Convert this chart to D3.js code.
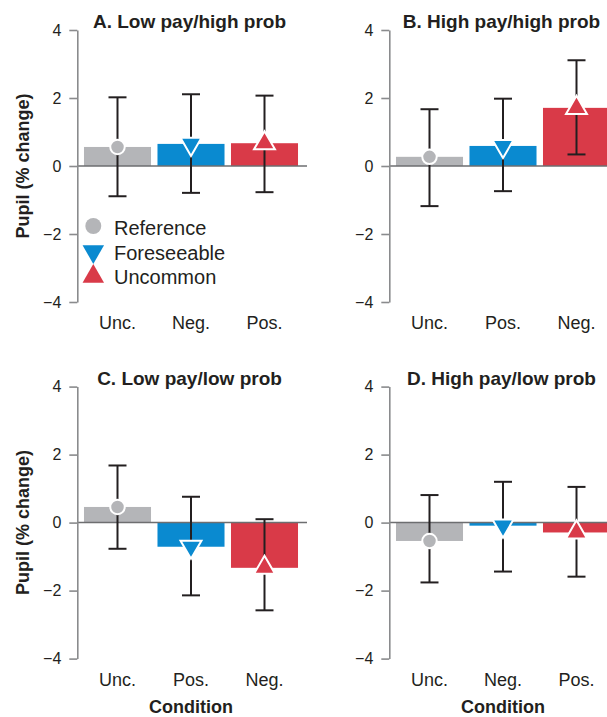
<!DOCTYPE html>
<html>
<head>
<meta charset="utf-8">
<script src="https://cdn.jsdelivr.net/npm/d3@7/dist/d3.min.js"></script>
<style>
  html, body { margin: 0; padding: 0; background: #fff; }
  svg { display: block; font-family: "Liberation Sans", Arial, Helvetica, sans-serif; }
</style>
</head>
<body>
<svg id="chart" width="607" height="717"></svg>
<script>
// Pupil response by condition, four payoff/probability panels
const panelTitles = ["A. Low pay/high prob", "B. High pay/high prob", "C. Low pay/low prob", "D. High pay/low prob"];
const panelCategories = [
  ["Unc.", "Neg.", "Pos."],
  ["Unc.", "Pos.", "Neg."],
  ["Unc.", "Pos.", "Neg."],
  ["Unc.", "Neg.", "Pos."]
];
const seriesNames = ["Reference", "Foreseeable", "Uncommon"];
const seriesColors = ["#b4b5b8", "#0a8ad0", "#d93a48"];
const seriesSymbols = ["circle", "triangleDown", "triangleUp"];

// mean % change per panel, in the order of the bars (Reference, Foreseeable, Uncommon)
const meanValues = [
  [0.56, 0.65, 0.67],
  [0.27, 0.59, 1.71],
  [0.46, -0.71, -1.33],
  [-0.54, -0.09, -0.29]
];
const upperValues = [
  [2.02, 2.11, 2.07],
  [1.67, 1.98, 3.11],
  [1.68, 0.76, 0.10],
  [0.81, 1.20, 1.05]
];
const lowerValues = [
  [-0.89, -0.79, -0.77],
  [-1.18, -0.74, 0.34],
  [-0.77, -2.14, -2.58],
  [-1.76, -1.44, -1.59]
];
const yTicks = [-4, -2, 0, 2, 4];
const yTitle = "Pupil (% change)";
const xTitle = "Condition";

const textColor = "#231f20";
const svg = d3.select("#chart");

// panel geometry
const panelOffsets = [[0, 0], [312, 0], [0, 356.6], [312, 356.6]];
const axisX = 77.3;
const plotLeft = 80.75, plotRight = 301.25, zeroRight = 307;

const y = d3.scaleLinear().domain([-4, 4]).range([302, 30]);

function symbolPath(kind, size) {
  if (kind === "circle") return d3.symbol(d3.symbolCircle, size)();
  return d3.symbol(d3.symbolTriangle, size)();
}
function symbolTransform(kind, cx, cy) {
  return kind === "triangleDown" ? `translate(${cx},${cy}) rotate(180)` : `translate(${cx},${cy})`;
}

panelTitles.forEach((title, p) => {
  const g = svg.append("g").attr("transform", `translate(${panelOffsets[p][0]},${panelOffsets[p][1]})`);
  const cats = panelCategories[p];
  const x = d3.scaleBand().domain(cats).range([plotLeft, plotRight]).paddingInner(0.088).paddingOuter(0.044);

  const rows = cats.map((c, i) => ({
    cat: c, i,
    mean: meanValues[p][i], lo: lowerValues[p][i], hi: upperValues[p][i]
  }));

  // bars
  g.selectAll("rect.bar").data(rows).join("rect")
    .attr("class", "bar")
    .attr("x", d => x(d.cat))
    .attr("width", x.bandwidth())
    .attr("y", d => Math.min(y(d.mean), y(0)))
    .attr("height", d => Math.abs(y(d.mean) - y(0)))
    .attr("fill", d => seriesColors[d.i]);

  // zero line
  g.append("line")
    .attr("x1", axisX).attr("x2", zeroRight)
    .attr("y1", y(0)).attr("y2", y(0))
    .attr("stroke", "#6d6e70").attr("stroke-width", 1.5);

  // y axis
  const axis = g.append("g")
    .attr("transform", `translate(${axisX},0)`)
    .call(d3.axisLeft(y).tickValues(yTicks).tickSize(8).tickSizeOuter(0).tickPadding(8).tickFormat(d3.format("d")));
  axis.select(".domain").attr("stroke", "#8a8b8d").attr("stroke-width", 1.6);
  axis.selectAll(".tick line").attr("stroke", "#8a8b8d").attr("stroke-width", 1.6);
  axis.selectAll(".tick text")
    .attr("fill", textColor)
    .style("font-size", "16px")
    .style("font-family", "'Liberation Sans', Arial, sans-serif");

  // error bars
  const eb = g.selectAll("g.err").data(rows).join("g").attr("class", "err")
    .attr("stroke", "#231f20").attr("stroke-width", 2);
  eb.append("line")
    .attr("x1", d => x(d.cat) + x.bandwidth() / 2).attr("x2", d => x(d.cat) + x.bandwidth() / 2)
    .attr("y1", d => y(d.lo)).attr("y2", d => y(d.hi));
  eb.append("line")
    .attr("x1", d => x(d.cat) + x.bandwidth() / 2 - 9).attr("x2", d => x(d.cat) + x.bandwidth() / 2 + 9)
    .attr("y1", d => y(d.hi)).attr("y2", d => y(d.hi));
  eb.append("line")
    .attr("x1", d => x(d.cat) + x.bandwidth() / 2 - 9).attr("x2", d => x(d.cat) + x.bandwidth() / 2 + 9)
    .attr("y1", d => y(d.lo)).attr("y2", d => y(d.lo));

  // mean markers
  g.selectAll("path.mk").data(rows).join("path")
    .attr("class", "mk")
    .attr("d", d => symbolPath(seriesSymbols[d.i], seriesSymbols[d.i] === "circle" ? 165 : 190))
    .attr("transform", d => symbolTransform(seriesSymbols[d.i], x(d.cat) + x.bandwidth() / 2, y(d.mean)))
    .attr("fill", d => seriesColors[d.i])
    .attr("stroke", "#fff").attr("stroke-width", 2);

  // category labels
  g.selectAll("text.cat").data(rows).join("text")
    .attr("class", "cat")
    .attr("x", d => x(d.cat) + x.bandwidth() / 2)
    .attr("y", 329)
    .attr("text-anchor", "middle")
    .attr("fill", textColor)
    .style("font-size", "18px")
    .text(d => d.cat);

  // panel title
  g.append("text")
    .attr("x", (plotLeft + plotRight) / 2 - 1.5)
    .attr("y", 28)
    .attr("text-anchor", "middle")
    .attr("fill", textColor)
    .style("font-size", "19px").style("font-weight", "bold")
    .text(title);

  if (p % 2 === 0) {
    g.append("text")
      .attr("transform", `translate(28.5,${y(0)}) rotate(-90)`)
      .attr("text-anchor", "middle")
      .attr("fill", textColor)
      .style("font-size", "18px").style("font-weight", "bold")
      .text(yTitle);
  }
  if (p >= 2) {
    g.append("text")
      .attr("x", (plotLeft + plotRight) / 2)
      .attr("y", 356.4)
      .attr("text-anchor", "middle")
      .attr("fill", textColor)
      .style("font-size", "18px").style("font-weight", "bold")
      .text(xTitle);
  }

  if (p === 0) {
    const leg = g.append("g").attr("class", "legend");
    const legY = [226, 251.5, 276.5];
    seriesNames.forEach((name, i) => {
      leg.append("path")
        .attr("d", symbolPath(seriesSymbols[i], 200))
        .attr("transform", symbolTransform(seriesSymbols[i], 93.3, legY[i]))
        .attr("fill", seriesColors[i]);
      leg.append("text")
        .attr("x", 114)
        .attr("y", [234.5, 259.5, 284][i])
        .attr("fill", textColor)
        .style("font-size", "20px")
        .text(name);
    });
  }
});
</script>
</body>
</html>
